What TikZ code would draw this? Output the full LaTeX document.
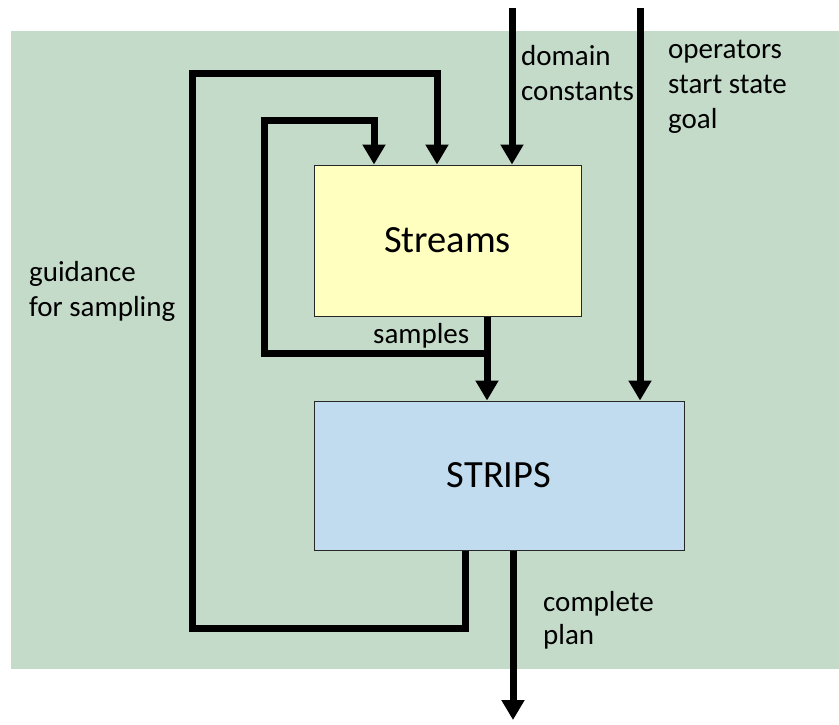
\documentclass[tikz,border=0pt]{standalone}
\usepackage{fontspec}
\setmainfont{Carlito}
\usetikzlibrary{arrows.meta}
\definecolor{bggreen}{HTML}{C4DBCA}
\definecolor{streamyellow}{HTML}{FFFFC0}
\definecolor{stripsblue}{HTML}{C0DCEE}
\tikzset{
  box/.style={draw=black!85, line width=1pt, minimum width=#1, inner sep=0pt,
    font=\fontsize{38.5}{44}\selectfont},
  arr/.style={line width=7pt, -{Triangle[width=22pt,length=20pt]}},
  lbl/.style={anchor=base west, inner sep=0pt, font=\fontsize{29}{35}\selectfont},
}
\begin{document}
\begin{tikzpicture}[x=1pt,y=-1pt]
\useasboundingbox (0,0) rectangle (839,724);
\fill[bggreen] (11,31) rectangle (839,669);
\node[box=267pt, minimum height=151pt, fill=streamyellow] (streams) at (447.5,240.5) {Streams};
\node[box=370pt, minimum height=149pt, fill=stripsblue] (strips) at (499,475.5) {STRIPS};
% coordinates
\coordinate (din) at (512,8);
\coordinate (oin) at (640,8);
\coordinate (j) at (487,353);
\coordinate (innerc) at (264,120);
\coordinate (innerx) at (374,0);
\coordinate (o1) at (465,628);
\coordinate (outerc) at (192,73);
\coordinate (outerx) at (437,0);
\coordinate (pout) at (513,720);
% connectors
\draw[arr] (din) -- (din |- streams.north);
\draw[arr] (oin) -- (oin |- strips.north);
\draw[arr] (j |- streams.south) -- (j |- strips.north);
\draw[arr] (j) -| (innerc) -| (innerx |- streams.north);
\draw[arr] (o1 |- strips.south) -- (o1) -| (outerc) -| (outerx |- streams.north);
\draw[arr] (pout |- strips.south) -- (pout);
% labels
\node[lbl] (l1) at (521,65) {domain};
\node[lbl] (l2) at (521,100) {constants};
\node[lbl] (l3) at (668,58) {operators};
\node[lbl] (l4) at (668,93) {start state};
\node[lbl] (l5) at (668,128) {goal};
\node[lbl] (l6) at (29,281) {guidance};
\node[lbl] (l7) at (29,316) {for sampling};
\node[lbl] (l8) at (373,343) {samples};
\node[lbl] (l9) at (543,611) {complete};
\node[lbl] (l10) at (543,644) {plan};
\end{tikzpicture}
\end{document}
